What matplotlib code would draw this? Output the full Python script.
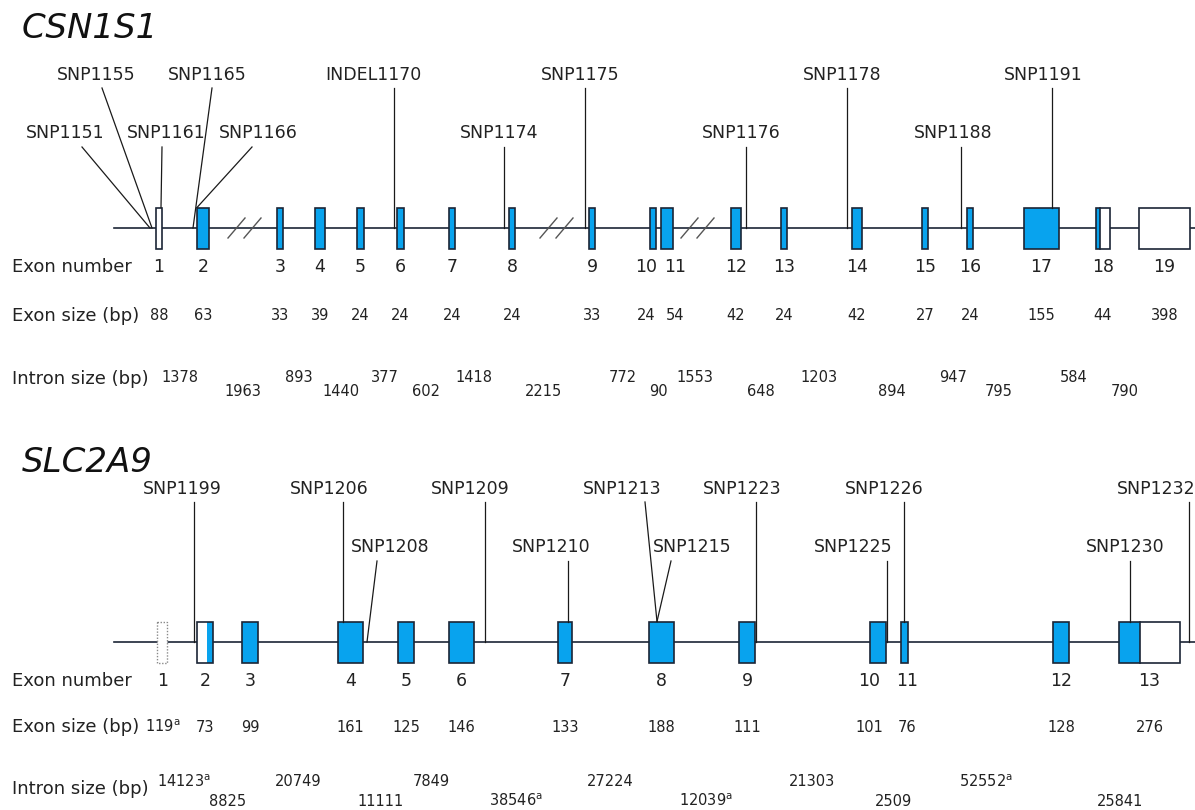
import matplotlib.pyplot as plt
from matplotlib.patches import Rectangle

plt.rcParams["font.family"] = ["DejaVu Sans"]

BLUE = "#08a3ee"
EDGE = "#1b2536"
TEXT = "#222222"

# ---- CSN1S1 ----
csn_exon_no = [str(i) for i in range(1, 20)]
csn_exon_size = ["88", "63", "33", "39", "24", "24", "24", "24", "33", "24",
                 "54", "42", "24", "42", "27", "24", "155", "44", "398"]
csn_intron_size = ["1378", "1963", "893", "1440", "377", "602", "1418", "2215", "772",
                   "90", "1553", "648", "1203", "894", "947", "795", "584", "790"]
# exon extents along the drawn gene (diagram units)
csn_exon_start = [156, 197, 277, 315, 357, 397, 449, 509, 589, 650,
                  661, 731, 781, 852, 922, 967, 1024, 1096, 1139]
csn_exon_end = [162, 209, 283, 325, 364, 404, 455, 515, 595, 656,
                673, 741, 787, 862, 928, 973, 1059, 1110, 1190]
# coding part of each exon (None = untranslated only)
csn_cds_start = [None, 197, 277, 315, 357, 397, 449, 509, 589, 650,
                 661, 731, 781, 852, 922, 967, 1024, 1096, None]
csn_cds_end = [None, 209, 283, 325, 364, 404, 455, 515, 595, 656,
               673, 741, 787, 862, 928, 973, 1059, 1100, None]
csn_breaks = [245, 557, 698]

csn_snp = ["SNP1155", "SNP1165", "INDEL1170", "SNP1175", "SNP1178", "SNP1191",
           "SNP1151", "SNP1161", "SNP1166", "SNP1174", "SNP1176", "SNP1188"]
csn_snp_row = [1, 1, 1, 1, 1, 1, 2, 2, 2, 2, 2, 2]
csn_snp_label_x = [96, 207, 373, 580, 842, 1043, 65, 166, 258, 499, 741, 953]
csn_snp_top_x = [102, 212, 394, 585, 847, 1052, 82, 162, 252, 504, 746, 961]
csn_snp_pos = [152, 193, 394, 585, 847, 1052, 150, 161, 197, 504, 746, 961]
csn_snp_on_exon = [False, False, False, False, False, True,
                   False, True, True, False, False, False]

# ---- SLC2A9 ----
slc_exon_no = [str(i) for i in range(1, 14)]
slc_exon_size = [r"119$^\mathrm{a}$", "73", "99", "161", "125", "146", "133",
                 "188", "111", "101", "76", "128", "276"]
slc_intron_size = [r"14123$^\mathrm{a}$", "8825", "20749", "11111", "7849",
                   r"38546$^\mathrm{a}$", "27224", r"12039$^\mathrm{a}$", "21303",
                   "2509", r"52552$^\mathrm{a}$", "25841"]
slc_exon_start = [157, 197, 242, 338, 398, 449, 558, 649, 739, 870, 901, 1053, 1119]
slc_exon_end = [167, 213, 258, 363, 414, 474, 572, 674, 755, 886, 908, 1069, 1180]
slc_cds_start = [None, 207, 242, 338, 398, 449, 558, 649, 739, 870, 901, 1053, 1119]
slc_cds_end = [None, 213, 258, 363, 414, 474, 572, 674, 755, 886, 908, 1069, 1140]

slc_snp = ["SNP1199", "SNP1206", "SNP1209", "SNP1213", "SNP1223", "SNP1226", "SNP1232",
           "SNP1208", "SNP1210", "SNP1215", "SNP1225", "SNP1230"]
slc_snp_row = [1, 1, 1, 1, 1, 1, 1, 2, 2, 2, 2, 2]
slc_snp_label_x = [182, 329, 470, 622, 742, 884, 1156, 390, 551, 692, 853, 1125]
slc_snp_top_x = [194, 343, 485, 645, 756, 904, 1189, 377, 568, 671, 887, 1130]
slc_snp_pos = [194, 343, 485, 657, 756, 904, 1189, 367, 568, 657, 887, 1130]
slc_snp_on_exon = [False, True, False, True, False, True, False,
                   False, True, True, False, True]


def draw_gene(ax, name, y0, title_dy, rows_dy, starts, ends, cds_s, cds_e, exon_no,
              exon_size, intron_size, snps, rows, label_x, top_x, pos, on_exon,
              num_nudge, intron_nudge, first_dotted=False, breaks=()):
    half = 20.5
    num_dy, size_dy, head_dy, up_dy, down_dy = rows_dy
    ax.text(22, y0 + title_dy, name, fontsize=24.5, style="italic", color="#111111",
            ha="left", va="center")
    ax.plot([114, 1195], [y0, y0], color=EDGE, lw=1.2, zorder=1)

    for x in breaks:
        for dx in (-9, 7):
            ax.plot([x + dx - 8, x + dx + 9], [y0 + 10, y0 - 10], color="#555555",
                    lw=1.0, zorder=2)

    for i, (s, e) in enumerate(zip(starts, ends)):
        if i == 0 and first_dotted:
            ax.add_patch(Rectangle((s, y0 - half), e - s, 2 * half, facecolor="white",
                                   edgecolor="#8a8a8a", lw=1.0, ls=(0, (1, 1.2)), zorder=3))
            continue
        ax.add_patch(Rectangle((s, y0 - half), e - s, 2 * half, facecolor="white",
                               edgecolor="none", zorder=3))
        if cds_s[i] is not None:
            ax.add_patch(Rectangle((cds_s[i], y0 - half), cds_e[i] - cds_s[i], 2 * half,
                                   facecolor=BLUE, edgecolor="none", zorder=4))
        ax.add_patch(Rectangle((s, y0 - half), e - s, 2 * half, facecolor="none",
                               edgecolor=EDGE, lw=1.2, zorder=5))
        if cds_e[i] is not None and cds_e[i] < e:
            ax.plot([cds_e[i], cds_e[i]], [y0 - half, y0 + half], color=EDGE, lw=1.2, zorder=5)

    # SNP callouts
    for nm, r, lx, tx, px, ex in zip(snps, rows, label_x, top_x, pos, on_exon):
        ly = y0 - 153 if r == 1 else y0 - 95
        ty = y0 - 140 if r == 1 else y0 - 81
        by = y0 - half if ex else y0
        ax.text(lx, ly, nm, fontsize=12.5, color=TEXT, ha="center", va="center")
        ax.plot([tx, px], [ty, by], color="#1a1a1a", lw=0.9, zorder=6)

    # row headings
    ax.text(12, y0 + num_dy, "Exon number", fontsize=13, color=TEXT, ha="left", va="center")
    ax.text(12, y0 + size_dy, "Exon size (bp)", fontsize=13, color=TEXT, ha="left", va="center")
    ax.text(12, y0 + head_dy, "Intron size (bp)", fontsize=13, color=TEXT, ha="left", va="center")

    for i, (s, e) in enumerate(zip(starts, ends)):
        cx = (s + e) / 2 + num_nudge.get(i, 0)
        ax.text(cx, y0 + num_dy, exon_no[i], fontsize=12.5, color=TEXT, ha="center", va="center")
        ax.text(cx, y0 + size_dy, exon_size[i], fontsize=10.5, color=TEXT, ha="center", va="center")

    for i, lab in enumerate(intron_size):
        mx = (ends[i] + starts[i + 1]) / 2 + intron_nudge.get(i, 0)
        iy = y0 + up_dy if i % 2 == 0 else y0 + down_dy
        ax.text(mx, iy, lab, fontsize=10.5, color=TEXT, ha="center", va="center")


fig = plt.figure(figsize=(11.95, 8.1), dpi=100)
ax = fig.add_axes([0, 0, 1, 1])
ax.set_xlim(0, 1195)
ax.set_ylim(810, 0)
ax.axis("off")

draw_gene(ax, "CSN1S1", 228, -200, (39, 88, 151, 149, 163),
          csn_exon_start, csn_exon_end, csn_cds_start, csn_cds_end,
          csn_exon_no, csn_exon_size, csn_intron_size, csn_snp, csn_snp_row,
          csn_snp_label_x, csn_snp_top_x, csn_snp_pos, csn_snp_on_exon,
          num_nudge={9: -7, 10: 8}, intron_nudge={4: 4, 6: -8, 7: -8, 10: -7, 14: 6, 16: -4},
          breaks=csn_breaks)

draw_gene(ax, "SLC2A9", 642, -180, (39, 85, 147, 140, 159),
          slc_exon_start, slc_exon_end, slc_cds_start, slc_cds_end,
          slc_exon_no, slc_exon_size, slc_intron_size, slc_snp, slc_snp_row,
          slc_snp_label_x, slc_snp_top_x, slc_snp_pos, slc_snp_on_exon,
          num_nudge={0: 1, 9: -9, 10: 3}, intron_nudge={0: 2, 10: 6, 11: 26},
          first_dotted=True)

fig.savefig("out.png", dpi=100)
